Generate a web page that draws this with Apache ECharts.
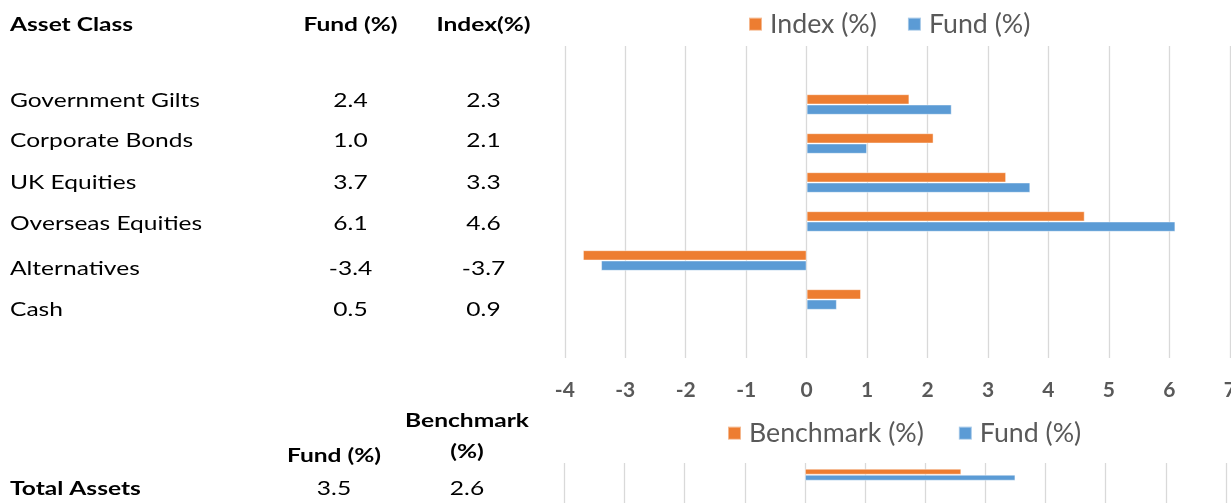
<!DOCTYPE html>
<html>
<head>
<meta charset="utf-8">
<script src="https://cdn.jsdelivr.net/npm/echarts@6/dist/echarts.min.js"></script>
<style>
html,body{margin:0;padding:0;background:#fff;}
#chart{width:1231px;height:503px;}
</style>
</head>
<body>
<div id="chart"></div>
<script>
// ---------- data ----------
const assetClasses = ['Government Gilts', 'Corporate Bonds', 'UK Equities', 'Overseas Equities', 'Alternatives', 'Cash'];
const fundTable  = [2.4, 1.0, 3.7, 6.1, -3.4, 0.5];
const indexTable = [2.3, 2.1, 3.3, 4.6, -3.7, 0.9];
const fundBars   = [2.4, 1.0, 3.7, 6.1, -3.4, 0.5];
const indexBars  = [1.7, 2.1, 3.3, 4.6, -3.7, 0.9];
const totalLabel = 'Total Assets';
const totalFund = [3.5];
const totalBenchmark = [2.6];
const xMin = -4, xMax = 7, xStep = 1;
const tableHeaders = ['Asset Class', 'Fund (%)', 'Index(%)'];
const totalHeaders = ['Fund (%)', 'Benchmark', '(%)'];
const legendTop = ['Index (%)', 'Fund (%)'];
const legendBottom = ['Benchmark (%)', 'Fund (%)'];

// ---------- font helpers ----------
const cv = document.createElement('canvas').getContext('2d');
function measure(text, font) { cv.font = font; return cv.measureText(text).width; }
function hasFont(fam) {
  return measure('Index (%) Benchmark', '100px "' + fam + '", monospace') !== measure('Index (%) Benchmark', '100px monospace');
}
const TABLE_FONT = 'Lato';
const TABLE_SIZE = 19;
const tableScale = 190 / measure('Government Gilts', TABLE_SIZE + 'px ' + TABLE_FONT);
const LEGEND_FONT = hasFont('Liberation Sans Narrow') ? 'Liberation Sans Narrow' : 'Lato';
const legendSize = 100 * 107 / measure('Index (%)', '100px "' + LEGEND_FONT + '"');

const ORANGE = '#ED7D31', BLUE = '#5B9BD5', GRID = '#D9D9D9', GREY = '#595959';

// ---------- table graphics ----------
function txt(x, y, text, align, bold) {
  return {
    type: 'text', x: x, y: y, scaleX: tableScale, silent: true,
    style: {
      text: text, x: 0, y: 0,
      align: align, verticalAlign: 'middle',
      textAlign: align, textVerticalAlign: 'middle',
      fontFamily: TABLE_FONT, fontSize: TABLE_SIZE,
      fontWeight: bold ? 'bold' : 'normal', fill: '#000'
    }
  };
}
const rowY = [101, 141, 182.5, 223.5, 269, 310];
const colFund = 350.5, colIndex = 483.5;
const graphics = [];
graphics.push(txt(10, 25, tableHeaders[0], 'left', true));
graphics.push(txt(colFund, 25, tableHeaders[1], 'center', true));
graphics.push(txt(colIndex, 25, tableHeaders[2], 'center', true));
assetClasses.forEach(function (name, i) {
  graphics.push(txt(10, rowY[i], name, 'left', false));
  graphics.push(txt(colFund, rowY[i], fundTable[i].toFixed(1), 'center', false));
  graphics.push(txt(colIndex, rowY[i], indexTable[i].toFixed(1), 'center', false));
});
graphics.push(txt(334, 456, totalHeaders[0], 'center', true));
graphics.push(txt(467, 421, totalHeaders[1], 'center', true));
graphics.push(txt(467, 452, totalHeaders[2], 'center', true));
graphics.push(txt(10, 489, totalLabel, 'left', true));
graphics.push(txt(334, 489, totalFund[0].toFixed(1), 'center', false));
graphics.push(txt(467, 489, totalBenchmark[0].toFixed(1), 'center', false));

// ---------- chart ----------
const topCats = [''].concat(assetClasses, ['']);
const pad = function (arr) { return [null].concat(arr, [null]); };
const bottomCats = [totalLabel, '', ''];

const chart = echarts.init(document.getElementById('chart'));
const legendBase = {
  icon: 'rect', itemWidth: 13, itemHeight: 13, padding: 0,
  textStyle: { color: GREY, fontFamily: LEGEND_FONT, fontSize: legendSize, padding: [0, 0, 0, 3] },
  selectedMode: false
};
const barEdge = function (c) { return { color: c, borderColor: 'rgba(255,255,255,0.45)', borderWidth: 1 }; };
chart.setOption({
  animation: false,
  backgroundColor: '#fff',
  graphic: { elements: graphics },
  legend: [
    Object.assign({}, legendBase, { data: legendTop, left: 748, top: 24 - legendSize / 2, itemGap: 30 }),
    Object.assign({}, legendBase, { data: legendBottom, left: 727, top: 433 - legendSize / 2, itemGap: 34 })
  ],
  grid: [
    { left: 564.8, top: 46, width: 665, height: 312, outerBoundsMode: 'none', containLabel: false },
    { left: 564.4, top: 463, width: 661.5, height: 70.2, outerBoundsMode: 'none', containLabel: false }
  ],
  xAxis: [
    {
      type: 'value', gridIndex: 0, min: xMin, max: xMax, interval: xStep,
      axisLine: { show: false }, axisTick: { show: false },
      splitLine: { show: true, lineStyle: { color: GRID, width: 1.3 } },
      axisLabel: { color: GREY, fontFamily: 'Lato', fontWeight: 'bold', fontSize: 21, margin: 22 }
    },
    {
      type: 'value', gridIndex: 1, min: xMin, max: xMax, interval: xStep,
      axisLine: { show: false }, axisTick: { show: false },
      splitLine: { show: true, lineStyle: { color: GRID, width: 1.3 } },
      axisLabel: { show: false }
    }
  ],
  yAxis: [
    { type: 'category', gridIndex: 0, inverse: true, data: topCats,
      axisLine: { show: false }, axisTick: { show: false }, axisLabel: { show: false } },
    { type: 'category', gridIndex: 1, inverse: true, data: bottomCats,
      axisLine: { show: false }, axisTick: { show: false }, axisLabel: { show: false } }
  ],
  series: [
    { name: 'Index (%)', type: 'bar', xAxisIndex: 0, yAxisIndex: 0, data: pad(indexBars),
      barWidth: 10.3, barGap: '0%', itemStyle: barEdge(ORANGE) },
    { name: 'Fund (%)', type: 'bar', xAxisIndex: 0, yAxisIndex: 0, data: pad(fundBars),
      barWidth: 10.3, barGap: '0%', itemStyle: barEdge(BLUE) },
    { name: 'Benchmark (%)', type: 'bar', xAxisIndex: 1, yAxisIndex: 1, data: totalBenchmark.concat([null, null]),
      barWidth: 6, barGap: '0%', itemStyle: barEdge(ORANGE) },
    { name: 'Fund (%)', type: 'bar', xAxisIndex: 1, yAxisIndex: 1, data: totalFund.concat([null, null]),
      barWidth: 6, barGap: '0%', itemStyle: barEdge(BLUE) }
  ]
});
</script>
</body>
</html>
